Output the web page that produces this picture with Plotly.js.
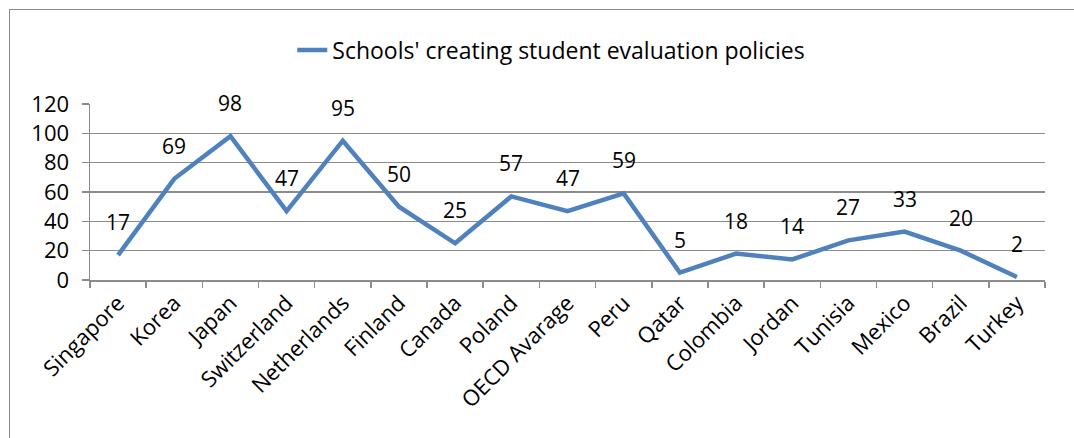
<!DOCTYPE html>
<html><head><meta charset="utf-8">
<script src="https://cdn.plot.ly/plotly-3.0.1.min.js"></script>
<style>
html,body{margin:0;padding:0;background:#fff;overflow:hidden}
#chart{width:1074px;height:438px;position:absolute;left:0;top:0}
#frame{position:absolute;left:9px;top:9px;width:1100px;height:500px;border-left:1.5px solid #8c8c8c;border-top:1.5px solid #8c8c8c;pointer-events:none}
</style></head><body>
<div id="chart"></div><div id="frame"></div>
<script>
const categories = ["Singapore","Korea","Japan","Switzerland","Netherlands","Finland","Canada","Poland","OECD Avarage","Peru","Qatar","Colombia","Jordan","Tunisia","Mexico","Brazil","Turkey"];
const values = [17,69,98,47,95,50,25,57,47,59,5,18,14,27,33,20,2];
const seriesName = "Schools' creating student evaluation policies";
const yTicks = [0,20,40,60,80,100,120];

const fontFam = "'Open Sans', sans-serif";
const trace = {
  x: categories, y: values, type: 'scatter', mode: 'lines', name: seriesName,
  line: {color: '#4F81BD', width: 4.5}, hoverinfo: 'none'
};
const annotations = categories.map((c,i)=>({
  x: c, y: values[i], text: String(values[i]), showarrow: false,
  yshift: 33, font: {family: fontFam, size: 21, color: '#000'}
}));
const layout = {
  width: 1074, height: 438,
  margin: {l: 90, r: 29, t: 104, b: 158, autoexpand: false},
  paper_bgcolor: '#fff', plot_bgcolor: '#fff',
  showlegend: true,
  legend: {orientation: 'h', x: 0.483, xanchor: 'center', y: 0.886, yref: 'container', yanchor: 'middle',
           font: {family: fontFam, size: 23, color: '#000'}, bgcolor: 'rgba(0,0,0,0)'},
  xaxis: {
    type: 'category', range: [-0.5, categories.length - 0.5], tickangle: -45, tickson: 'boundaries',
    ticks: 'outside', ticklen: 6, tickcolor: '#8c8c8c', tickwidth: 1.5, showline: true, linecolor: '#8c8c8c',
    linewidth: 1.5, showgrid: false, tickfont: {family: fontFam, size: 22, color: '#000'}, fixedrange: true
  },
  yaxis: {
    range: [0,120], tickvals: yTicks, ticks: 'outside', ticklen: 7, tickcolor: '#8c8c8c', tickwidth: 1.5,
    ticklabelstandoff: 8,
    showline: true, linecolor: '#8c8c8c', linewidth: 1.5, showgrid: true, gridcolor: '#8c8c8c', gridwidth: 1.5,
    zeroline: false, tickfont: {family: fontFam, size: 22, color: '#000'}, fixedrange: true
  },
  annotations: annotations
};
Plotly.newPlot('chart', [trace], layout, {displayModeBar: false, staticPlot: true});
</script>
</body></html>
